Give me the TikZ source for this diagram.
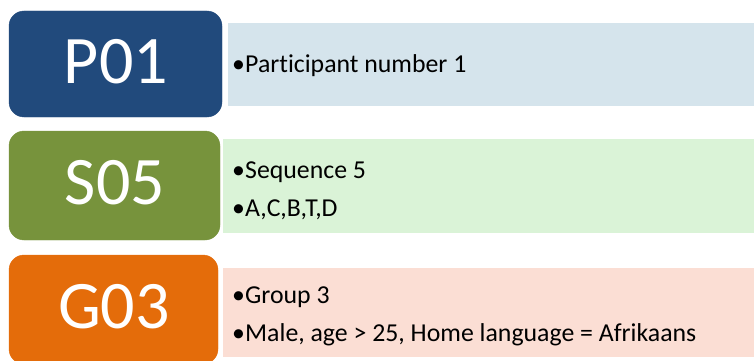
\documentclass[tikz,border=0pt]{standalone}
\usepackage{fontspec}
\setmainfont{Carlito}[RawFeature=-liga]
\definecolor{pblue}{HTML}{214A7C}
\definecolor{pbluelt}{HTML}{D5E4EC}
\definecolor{sgreen}{HTML}{77933C}
\definecolor{sgreenlt}{HTML}{DAF3D7}
\definecolor{gorange}{HTML}{E46C0A}
\definecolor{gorangelt}{HTML}{FBDED4}
\tikzset{
  codebox/.style={rounded corners=15pt, inner sep=0pt, text=white,
    font=\fontsize{68}{70}\selectfont},
  infobox/.style={inner sep=0pt},
  infoline/.style={anchor=base west, inner sep=0pt,
    font=\fontsize{25.8}{30}\selectfont},
}
\newcommand{\bul}{\makebox[13pt][l]{•}}
\begin{document}
\begin{tikzpicture}[x=1pt,y=-1pt]
\useasboundingbox (0,0) rectangle (755,361);
\clip (0,0) rectangle (755,361);

% participant row
\fill[pbluelt] (228,23) rectangle (754,106);
\node[infobox] (pinfo) at (491,64.5) {};
\filldraw[pblue, rounded corners=15pt] (9,11) rectangle (222,117);
\node[codebox] (pcode) at (116,62) {P01};
\node[infoline] (p1) at (232,73) {\bul Participant number 1};

% sequence row
\fill[sgreenlt] (223,139) rectangle (754,233);
\node[infobox] (sinfo) at (488.5,186) {};
\filldraw[sgreen, rounded corners=15pt] (9,131) rectangle (220,240);
\node[codebox] (scode) at (115,183) {S05};
\node[infoline] (s1) at (232,178.3) {\bul Sequence 5};
\node[infoline] (s2) at (232,216.8) {\bul A,C,B,T,D};

% group row
\fill[gorangelt] (223,268) rectangle (754,357);
\node[infobox] (ginfo) at (488.5,312.5) {};
\filldraw[gorange, rounded corners=15pt] (9,255) rectangle (218,364);
\node[codebox] (gcode) at (114,307) {G03};
\node[infoline] (g1) at (232,303) {\bul Group 3};
\node[infoline] (g2) at (232,341.7) {\bul Male, age > 25, Home language = Afrikaans};
\end{tikzpicture}
\end{document}
